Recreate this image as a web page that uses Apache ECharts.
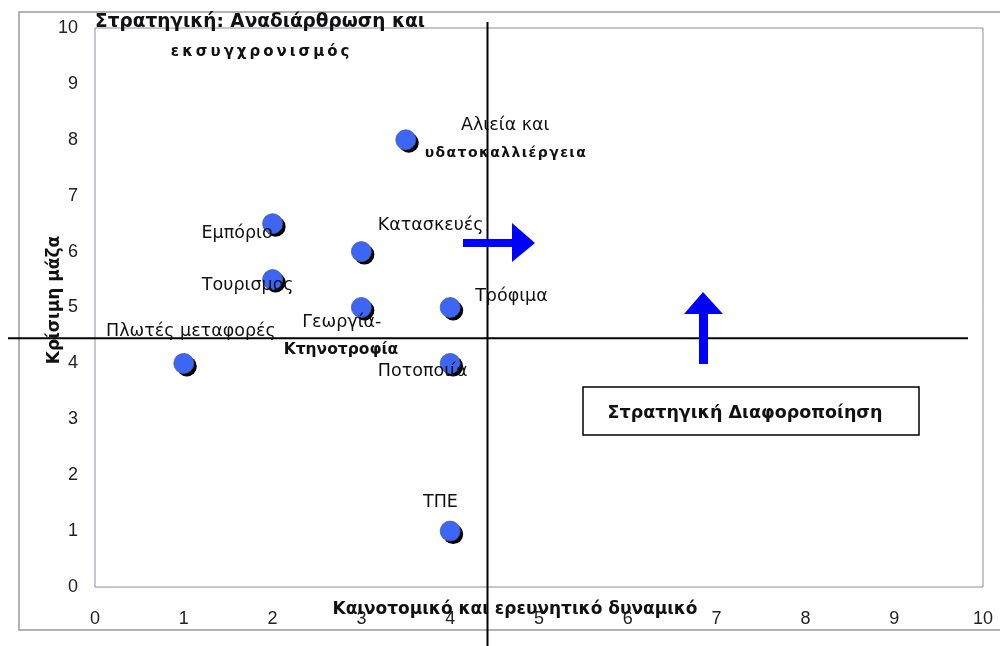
<!DOCTYPE html>
<html>
<head>
<meta charset="utf-8">
<script src="https://cdn.jsdelivr.net/npm/echarts@6/dist/echarts.min.js"></script>
<style>html,body{margin:0;padding:0;background:#fff}#c{width:1000px;height:646px}</style>
</head>
<body>
<div id="c"></div>
<script>
// Data points: [innovation potential, critical mass]
const xValues = [1, 2, 2, 3, 3, 3.5, 4, 4, 4];
const yValues = [4, 6.5, 5.5, 6, 5, 8, 5, 4, 1];
const xTicks = ['0','1','2','3','4','5','6','7','8','9','10'];
const yTicks = ['0','1','2','3','4','5','6','7','8','9','10'];
const crossX = 4.42;
const crossY = 4.45;
// annotations: text, anchor x, anchor y (data units), style kind
const annTexts = ['Στρατηγική: Αναδιάρθρωση και','εκσυγχρονισμός','Αλιεία και','υδατοκαλλιέργεια','Κατασκευές','Εμπόριο','Τουρισμος','Πλωτές μεταφορές','Γεωργία-','Κτηνοτροφία','Ποτοποιία','Τρόφιμα','ΤΠΕ'];
const annX = [0, 1.86, 4.62, 4.62, 3.78, 1.6, 1.72, 1.08, 2.78, 2.77, 3.69, 4.69, 3.89];
const annY = [10.1, 9.57, 8.25, 7.75, 6.46, 6.33, 5.4, 4.58, 4.74, 4.24, 3.85, 5.19, 1.52];
const annKind = ['title','spaced1','n','spaced2','n','n','n','n','n','b','n','n','n'];
const xTitle = 'Καινοτομικό και ερευνητικό δυναμικό';
const yTitle = 'Κρίσιμη μάζα';
const boxText = 'Στρατηγική Διαφοροποίηση';

const chart = echarts.init(document.getElementById('c'));
const pts = xValues.map((x,i)=>[x,yValues[i]]);
const FONT = 'DejaVu Sans';
chart.setOption({
  animation:false,
  grid:{left:95, top:28, right:17, bottom:59, show:true, borderColor:'#8a8aa8', borderWidth:1},
  xAxis:{type:'value', min:0, max:10, interval:1,
    axisLine:{show:false}, axisTick:{show:false}, splitLine:{show:false},
    axisLabel:{margin:23, fontSize:18, color:'#222', fontFamily:'Liberation Sans Narrow, Liberation Sans',
      formatter:(v)=>xTicks[Math.round(v)]}},
  yAxis:{type:'value', min:0, max:10, interval:1,
    axisLine:{show:false}, axisTick:{show:false}, splitLine:{show:false},
    axisLabel:{margin:17, fontSize:18, color:'#222', fontFamily:'Liberation Sans',
      formatter:(v)=>yTicks[Math.round(v)]}},
  series:[
    {type:'scatter', data:pts, symbol:'circle', symbolSize:20, symbolOffset:[3,3], silent:true,
     itemStyle:{color:'#000', opacity:1}, z:2},
    {type:'scatter', data:pts, symbol:'circle', symbolSize:20, silent:true,
     itemStyle:{color:'#3d66f6', borderColor:'#4a5a9a', borderWidth:0.8, opacity:1}, z:3}
  ]
});

function px(x,y){return chart.convertToPixel({gridIndex:0},[x,y]);}
const g = [];
// outer border
g.push({type:'rect', shape:{x:19, y:12, width:1000, height:618}, style:{fill:null, stroke:'#9a9a9a', lineWidth:1.5}, z:1});
// crosshair
const cx = px(crossX, crossY);
g.push({type:'line', shape:{x1:cx[0], y1:22, x2:cx[0], y2:646}, style:{stroke:'#000', lineWidth:2}, z:5});
g.push({type:'line', shape:{x1:8, y1:cx[1], x2:968, y2:cx[1]}, style:{stroke:'#000', lineWidth:2}, z:5});
// annotations
const fonts = {title:'bold 18.5px '+FONT, spaced1:'bold 15px '+FONT, spaced2:'bold 14px '+FONT, n:'17.5px '+FONT, b:'bold 15.5px '+FONT};
annTexts.forEach((t,i)=>{
  const p = px(annX[i], annY[i]);
  const k = annKind[i];
  const txt = k==='spaced1' ? Array.from(t).join('\u2009') : (k==='spaced2' ? Array.from(t).join('\u200A') : t);
  g.push({type:'text', x:p[0], y:p[1], z:10, style:{text:txt, fill:'#111', font:fonts[k],
    textAlign: k==='title'?'left':'center', textVerticalAlign:'middle'}});
});
// axis titles
g.push({type:'text', x:515, y:610, z:10, style:{text:xTitle, font:'bold 17px '+FONT, fill:'#111', textAlign:'center', textVerticalAlign:'middle'}});
g.push({type:'text', x:55, y:300, rotation:Math.PI/2, z:10, style:{text:yTitle, font:'bold 17px '+FONT, fill:'#111', textAlign:'center', textVerticalAlign:'middle'}});
// arrows
g.push({type:'polygon', z:8, shape:{points:[[463,239],[512,239],[512,223],[535,243],[512,262],[512,247],[463,247]]}, style:{fill:'#0000ff'}});
g.push({type:'polygon', z:8, shape:{points:[[699,364],[699,314],[684,314],[703,292],[723,314],[708,314],[708,364]]}, style:{fill:'#0000ff'}});
// box
g.push({type:'rect', z:8, shape:{x:583, y:387, width:336, height:48}, style:{fill:'#fff', stroke:'#000', lineWidth:1.5}});
g.push({type:'text', z:9, x:745, y:413, style:{text:boxText, font:'bold 17.5px '+FONT, fill:'#111', textAlign:'center', textVerticalAlign:'middle'}});
chart.setOption({graphic:g});
</script>
</body>
</html>
